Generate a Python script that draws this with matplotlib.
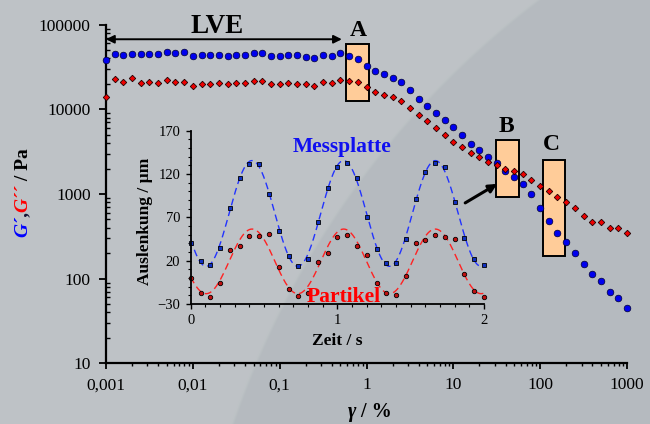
import numpy as np
import matplotlib.pyplot as plt
from matplotlib.patches import Rectangle
from matplotlib.ticker import FixedLocator, FixedFormatter, LogLocator, NullFormatter, MultipleLocator
from matplotlib.transforms import IdentityTransform

plt.rcParams['font.family'] = ['Liberation Serif', 'DejaVu Serif']

W, H = 650, 424

# ---- amplitude sweep: strain in %, 10 points per decade
strain = [0.001, 0.00126, 0.00158, 0.002, 0.00251, 0.00316, 0.00398, 0.00501, 0.00631, 0.00794,
          0.01, 0.0126, 0.0158, 0.02, 0.0251, 0.0316, 0.0398, 0.0501, 0.0631, 0.0794,
          0.1, 0.126, 0.158, 0.2, 0.251, 0.316, 0.398, 0.501, 0.631, 0.794,
          1, 1.26, 1.58, 2, 2.51, 3.16, 3.98, 5.01, 6.31, 7.94,
          10, 12.6, 15.8, 20, 25.1, 31.6, 39.8, 50.1, 63.1, 79.4,
          100, 126, 158, 200, 251, 316, 398, 501, 631, 794, 1000]
g_storage = [38300, 44700, 43900, 45500, 45500, 45100, 45500, 47200, 46900, 48100,
             43000, 43900, 43900, 43900, 43000, 43900, 44300, 46200, 46200, 42700,
             42700, 43900, 43500, 41600, 40100, 43500, 43000, 45900, 42700, 39400,
             32800, 28400, 26200, 23700, 21200, 17100, 13300, 11000, 9060, 7550,
             6190, 5020, 3940, 3290, 2770, 2310, 1860, 1590, 1330, 990,
             680, 481, 350, 274, 202, 150, 112, 94, 69, 59, 45]
g_loss = [14100, 22600, 21200, 23300, 20600, 20900, 20600, 22200, 21200, 21200,
          19000, 19800, 19800, 20300, 19800, 20300, 20300, 21500, 21500, 19700,
          19700, 20500, 20100, 19700, 18900, 20900, 20600, 22200, 21800, 21100,
          18400, 16200, 14900, 13900, 12600, 10500, 8590, 7300, 6080, 4940,
          4160, 3600, 3030, 2720, 2410, 2210, 1960, 1870, 1740, 1480,
          1260, 1080, 931, 813, 685, 547, 469, 465, 401, 401, 347]

x_ticks = [0.001, 0.01, 0.1, 1, 10, 100, 1000]
x_ticklabels = ['0,001', '0,01', '0,1', '1', '10', '100', '1000']
y_ticks = [10, 100, 1000, 10000, 100000]
y_ticklabels = ['10', '100', '1000', '10000', '100000']

# ---- inset: deflection over time
zeit = [0, 0.067, 0.133, 0.2, 0.267, 0.333, 0.4, 0.467, 0.533, 0.6, 0.667, 0.733, 0.8, 0.867,
        0.933, 1.0, 1.067, 1.133, 1.2, 1.267, 1.333, 1.4, 1.467, 1.533, 1.6, 1.667, 1.733,
        1.8, 1.867, 1.933, 2.0]
messplatte = [40, 19.6, 15, 34.2, 80.4, 115, 131.2, 131.2, 97, 54.6, 25.8, 14.2, 22.3, 65,
              103.8, 128.1, 133.1, 115, 70, 34, 17.3, 17.3, 45.4, 90.8, 122.3, 132.3, 128.1,
              87.3, 45.8, 22, 14.6]
partikel = [0, -16.9, -21.5, -6.2, 32.3, 37.3, 48.8, 48.8, 50.4, 13.1, -12.3, -20.8, -17, 18.1,
            28.5, 47.3, 50, 37, 26.5, -5.8, -17.7, -19.2, 2.7, 40.8, 43.8, 49.6, 47, 45, 5,
            -15, -21.5]
inset_yticks = [-30, 20, 70, 120, 170]
inset_xticks = [0, 1, 2]
# sine fits (offset, amplitude, period, time of first peak)
fit_messplatte = (74.5, 61.0, 0.625, 0.418)
fit_partikel = (19.2, 37.3, 0.625, 0.418)


def px(x, y):
    return x / W, 1 - y / H


fig = plt.figure(figsize=(6.5, 4.24), dpi=100)

# background with the soft arc
bg = fig.add_axes([0, 0, 1, 1], zorder=-10)
yy, xx = np.mgrid[0:H, 0:W]
d = np.hypot(xx - 1078, yy - 711) - 893
mix = np.clip(d / 3 + 0.5, 0, 1)[..., None]
light = np.array([190, 195, 198]) / 255
dark = np.array([181, 187, 191]) / 255
bg.imshow(dark + (light - dark) * mix, aspect='auto', interpolation='bilinear')
bg.axis('off')

ax = fig.add_axes([106 / W, 1 - 363.3 / H, 521 / W, 338.6 / H])
ax.patch.set_alpha(0)
ax.set_xscale('log')
ax.set_yscale('log')
ax.set_xlim(0.001, 1000)
ax.set_ylim(10, 100000)
for s in ['top', 'right']:
    ax.spines[s].set_visible(False)
for s in ['left', 'bottom']:
    ax.spines[s].set_linewidth(1.6)

ax.xaxis.set_major_locator(FixedLocator(x_ticks))
ax.xaxis.set_major_formatter(FixedFormatter(x_ticklabels))
ax.xaxis.set_minor_locator(LogLocator(base=10, subs=range(2, 10)))
ax.xaxis.set_minor_formatter(NullFormatter())
ax.yaxis.set_major_locator(FixedLocator(y_ticks))
ax.yaxis.set_major_formatter(FixedFormatter(y_ticklabels))
ax.yaxis.set_minor_locator(LogLocator(base=10, subs=range(2, 10)))
ax.yaxis.set_minor_formatter(NullFormatter())
ax.tick_params(axis='x', which='major', direction='out', length=4, width=1.3, labelsize=12.5, pad=6)
ax.tick_params(axis='x', which='minor', direction='out', length=2.5, width=1.0)
ax.tick_params(axis='y', which='major', direction='out', length=5, width=1.3, labelsize=12.5, pad=6)
ax.tick_params(axis='y', which='minor', direction='in', length=3, width=1.0)

# highlight boxes A, B, C
boxes = {'A': (0.582, 1.07, 12700, 59200), 'B': (30.9, 57.3, 931, 4350), 'C': (107.5, 194, 186, 2530)}
for key, (x0, x1, y0, y1) in boxes.items():
    ax.add_patch(Rectangle((x0, y0), x1 - x0, y1 - y0, facecolor='#FFCC99', edgecolor='black',
                           linewidth=1.4, zorder=2))

ax.plot(strain, g_storage, 'o', color='#0000EE', markeredgecolor='#000033', markeredgewidth=0.5,
        markersize=4.8, zorder=4, clip_on=False)
ax.plot(strain, g_loss, 'D', color='#EE0000', markeredgecolor='#220000', markeredgewidth=0.6,
        markersize=3.3, zorder=4, clip_on=False)

# LVE arrow
ax.annotate('', xy=(0.001, 67300), xytext=(0.52, 67300),
            arrowprops=dict(arrowstyle='<|-|>', color='black', lw=1.4, mutation_scale=12,
                            shrinkA=0, shrinkB=0), annotation_clip=False)
# arrow from inset to box B
ax.annotate('', xy=(32, 1316), xytext=(13.7, 785),
            arrowprops=dict(arrowstyle='-|>', color='black', lw=2.2, mutation_scale=12,
                            shrinkA=0, shrinkB=0), zorder=5)

fig.text(*px(216.7, 33), 'LVE', fontsize=19.5, fontweight='bold', ha='center', va='baseline')
fig.text(*px(358, 36), 'A', fontsize=17, fontweight='bold', ha='center', va='baseline')
fig.text(*px(506, 132), 'B', fontsize=17, fontweight='bold', ha='center', va='baseline')
fig.text(*px(551.5, 150), 'C', fontsize=17, fontweight='bold', ha='center', va='baseline')

# x label: gamma / %
fig.text(*px(356, 417), 'γ', fontsize=14.5, fontweight='bold', fontstyle='italic', ha='right', va='baseline')
fig.text(*px(356, 417), ' / %', fontsize=14.5, fontweight='bold', ha='left', va='baseline')

# y label: G', G'' / Pa in colours, stacked bottom to top
pieces = [("G´", '#0000FF', 'italic'), (",", '#111133', 'italic'), ("G´´", '#FF0000', 'italic'),
          (" / Pa", 'black', 'normal')]
renderer = fig.canvas.get_renderer()
items = []
for s, c, st in pieces:
    t = fig.text(23, 0, s, fontsize=14, fontweight='bold', fontstyle=st, color=c, rotation=90,
                 ha='center', va='bottom', transform=IdentityTransform())
    items.append(t)
heights = [t.get_window_extent(renderer).height for t in items]
total = sum(heights)
y = (H - 192.5) - total / 2
for t, h in zip(items, heights):
    t.set_position((23, y))
    y += h

# ---- inset
ins = fig.add_axes([190.7 / W, 1 - 304 / H, 293.3 / W, 173.3 / H])
ins.patch.set_alpha(0)
ins.set_xlim(0, 2)
ins.set_ylim(-30, 170)
for s in ['top', 'right']:
    ins.spines[s].set_visible(False)
for s in ['left', 'bottom']:
    ins.spines[s].set_linewidth(1.3)
ins.xaxis.set_major_locator(FixedLocator(inset_xticks))
ins.xaxis.set_minor_locator(MultipleLocator(0.1))
ins.yaxis.set_major_locator(FixedLocator(inset_yticks))
ins.yaxis.set_minor_locator(MultipleLocator(10))
ins.tick_params(which='major', direction='out', length=3.5, width=1.0, labelsize=10.5, pad=4)
ins.tick_params(which='minor', direction='out', length=2, width=0.8)

t_fit = np.linspace(0, 2, 400)
for (off, amp, per, tp), col in [(fit_messplatte, '#2233FF'), (fit_partikel, '#FF2222')]:
    ins.plot(t_fit, off + amp * np.cos(2 * np.pi * (t_fit - tp) / per), '--', color=col,
             lw=1.0, dashes=(5, 3))
ins.plot(zeit, messplatte, 's', color='#1030C0', markeredgecolor='black', markeredgewidth=0.6,
         markersize=3.2, clip_on=False)
ins.plot(zeit, partikel, 'o', color='#C01010', markeredgecolor='black', markeredgewidth=0.6,
         markersize=3.2, clip_on=False)

fig.text(*px(342, 152), 'Messplatte', fontsize=15.5, fontweight='bold', color='#1010F0',
         ha='center', va='baseline')
fig.text(*px(344, 302.5), 'Partikel', fontsize=15.5, fontweight='bold', color='#FF0000',
         ha='center', va='baseline')
fig.text(*px(337.5, 345), 'Zeit / s', fontsize=12.5, fontweight='bold', ha='center', va='baseline')
fig.text(*px(145, 221.7), 'Auslenkung / µm', fontsize=12.5, fontweight='bold', rotation=90,
         ha='center', va='center')

fig.savefig('out.png', dpi=100)
